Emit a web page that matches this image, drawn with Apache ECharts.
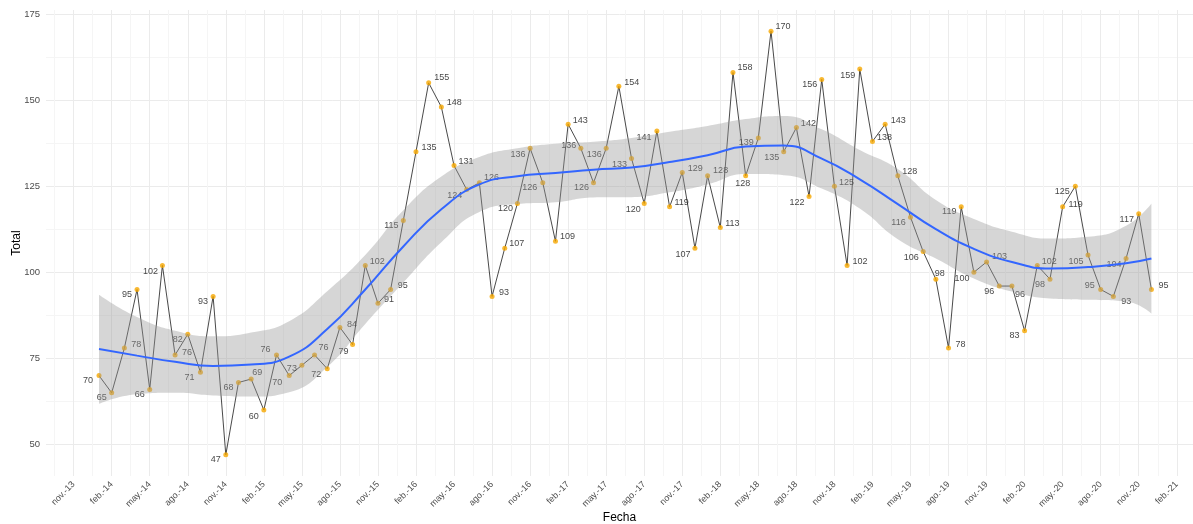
<!DOCTYPE html>
<html>
<head>
<meta charset="utf-8">
<script src="https://cdn.jsdelivr.net/npm/echarts@6/dist/echarts.min.js"></script>
<style>
  html, body { margin: 0; padding: 0; background: #fff; }
  #chart { width: 1193px; height: 524px; }
</style>
</head>
<body>
<div id="chart"></div>
<script>
  // monthly totals, one array per year (ene .. dic)
  var total2014 = [70, 65, 78, 95, 66, 102, 76, 82, 71, 93, 47, 68]
  var total2015 = [69, 60, 76, 70, 73, 76, 72, 84, 79, 102, 91, 95]
  var total2016 = [115, 135, 155, 148, 131, 124, 126, 93, 107, 120, 136, 126]
  var total2017 = [109, 143, 136, 126, 136, 154, 133, 120, 141, 119, 129, 107]
  var total2018 = [128, 113, 158, 128, 139, 170, 135, 142, 122, 156, 125, 102]
  var total2019 = [159, 138, 143, 128, 116, 106, 98, 78, 119, 100, 103, 96]
  var total2020 = [96, 83, 102, 98, 119, 125, 105, 95, 93, 104, 117, 95]

  // x tick labels, every 3 months starting nov-13
  var tickLabels = [
    'nov.-13',
    'feb.-14', 'may.-14', 'ago.-14', 'nov.-14',
    'feb.-15', 'may.-15', 'ago.-15', 'nov.-15',
    'feb.-16', 'may.-16', 'ago.-16', 'nov.-16',
    'feb.-17', 'may.-17', 'ago.-17', 'nov.-17',
    'feb.-18', 'may.-18', 'ago.-18', 'nov.-18',
    'feb.-19', 'may.-19', 'ago.-19', 'nov.-19',
    'feb.-20', 'may.-20', 'ago.-20', 'nov.-20',
    'feb.-21'
  ]
  var yTicks = [50, 75, 100, 125, 150, 175]

  // loess fit + confidence band (month index, 0 = ene-14)
  var smoothMonths = [0, 3, 6, 9, 12, 15, 18, 21, 24, 27, 30, 33, 36, 39, 42, 45, 48, 51, 54, 57, 60, 63, 66, 69, 72, 75, 78, 81, 83]
  var smoothFit = [77.7, 75.8, 74.0, 72.8, 73.2, 75.5, 83.5, 95, 107.5, 118.3, 125.5, 127.9, 128.8, 129.8, 130.4, 132, 134, 136.5, 136.8, 133, 127, 119.8, 112.5, 106.8, 103, 101.1, 101.5, 102.6, 104]
  var smoothUpper = [93.5, 87, 83, 81.4, 82.5, 85.8, 94.5, 105, 118, 127.8, 133.5, 136, 137.3, 137.9, 139, 140.8, 142.5, 144.5, 145.4, 141.5, 135.5, 130, 121, 115.5, 111.8, 109.8, 110.3, 113.5, 120]
  var smoothLower = [61.8, 64.6, 65, 64.2, 63.9, 65.2, 72.5, 85, 97, 108.7, 117.5, 119.8, 120.3, 121.7, 121.8, 123.2, 125.5, 128.5, 128.2, 124.3, 118.5, 109.6, 104, 98.2, 94.4, 92.4, 92, 91.5, 88]

  // where each value label sits relative to its point (px)
  var labelOffsets = [
    [-11, 5], [-10, 5], [12, -4], [-10, 5], [-10, 5], [-12, 6], [12, -2], [-10, 5], [-11, 5], [-10, 5], [-10, 5], [-10, 5],
    [6, -7], [-10, 6], [-11, -5], [-12, 7], [-10, 3], [9, -7], [-11, 6], [12, -3], [-9, 7], [12, -4], [11, -4], [12, -4],
    [-12, 5], [13, -4], [13, -5], [13, -4], [12, -4], [-12, 6], [12, -5], [12, -4], [12, -5], [-12, 5], [-12, 6], [-13, 5],
    [12, -5], [12, -4], [-12, -3], [-12, 5], [-12, 6], [13, -4], [-12, 6], [-11, 6], [-13, 6], [12, -4], [13, -4], [-12, 6],
    [13, -5], [12, -4], [12, -5], [-3, 8], [-12, 5], [12, -5], [-12, 6], [12, -4], [-12, 6], [-12, 5], [12, -4], [13, -4],
    [-12, 6], [12, -4], [13, -4], [12, -4], [-12, 5], [-12, 6], [4, -6], [12, -4], [-12, 5], [-12, 6], [13, -5], [-10, 5],
    [8, 8], [-10, 5], [12, -4], [-10, 5], [13, -2], [-13, 5], [-12, 6], [-11, -4], [13, 5], [-12, 6], [-12, 6], [12, -4]
  ]

  var totals = [].concat(total2014, total2015, total2016, total2017, total2018, total2019, total2020)
  var points = totals.map(function (v, i) { return [i, v] })

  // major ticks every 3 months from nov-13 (index -2), minor lines halfway between
  var majorX = tickLabels.map(function (_, i) { return i * 3 - 2 })
  var gridX = []
  majorX.forEach(function (m) { gridX.push(m - 1.5); gridX.push(m) })
  var gridY = []
  yTicks.forEach(function (v, i) { gridY.push(v); if (i < yTicks.length - 1) gridY.push(v + 12.5) })

  var font = 'Liberation Sans, Arial, sans-serif'
  var chart = echarts.init(document.getElementById('chart'))

  // band rows are [value, month] so the stack runs on y, not on x
  var bandLow = smoothMonths.map(function (m, i) { return [smoothLower[i], m] })
  var bandWidth = smoothMonths.map(function (m, i) { return [smoothUpper[i] - smoothLower[i], m] })

  chart.setOption({
    animation: false,
    backgroundColor: '#ffffff',
    grid: { left: 46, top: 10, width: 1147, height: 466, containLabel: false, outerBoundsMode: 'none' },
    xAxis: {
      type: 'value',
      min: -4.18,
      max: 86.28,
      name: 'Fecha',
      nameLocation: 'middle',
      nameGap: 36,
      nameMoveOverlap: false,
      nameTextStyle: { color: '#000', fontSize: 12, fontFamily: font },
      axisLine: { show: false },
      axisTick: { show: false, customValues: gridX },
      axisLabel: {
        customValues: majorX,
        rotate: 45,
        margin: 7,
        color: '#4d4d4d',
        fontSize: 9,
        fontFamily: font,
        formatter: function (v) { return tickLabels[Math.round((v + 2) / 3)] || '' }
      },
      splitLine: { show: true, lineStyle: { color: ['#f5f5f5', '#ebebeb'], width: 1 } }
    },
    yAxis: {
      type: 'value',
      min: 40.85,
      max: 176.15,
      name: 'Total',
      nameLocation: 'middle',
      nameRotate: 90,
      nameGap: 23,
      nameMoveOverlap: false,
      nameTextStyle: { color: '#000', fontSize: 12, fontFamily: font },
      axisLine: { show: false },
      axisTick: { show: false, customValues: gridY },
      axisLabel: {
        customValues: yTicks,
        margin: 6,
        color: '#4d4d4d',
        fontSize: 9.5,
        fontFamily: font
      },
      splitLine: { show: true, lineStyle: { color: ['#ebebeb', '#f5f5f5'], width: 1 } }
    },
    series: [
      {
        type: 'scatter',
        z: 2,
        symbolSize: 5,
        itemStyle: { color: '#f6a800' },
        data: points.map(function (p, i) {
          return { value: p, label: { offset: labelOffsets[i] } }
        }),
        label: {
          show: true,
          position: 'inside',
          color: '#111',
          fontSize: 9,
          fontFamily: font,
          formatter: function (p) { return p.value[1] }
        },
        emphasis: { disabled: true }
      },
      {
        type: 'line',
        z: 2,
        data: points,
        showSymbol: false,
        lineStyle: { color: '#1a1a1a', width: 0.8 },
        emphasis: { disabled: true }
      },
      {
        type: 'line',
        z: 3,
        stack: 'band',
        smooth: true,
        showSymbol: false,
        encode: { x: 1, y: 0 },
        data: bandLow,
        lineStyle: { opacity: 0 },
        emphasis: { disabled: true }
      },
      {
        type: 'line',
        z: 3,
        stack: 'band',
        smooth: true,
        showSymbol: false,
        encode: { x: 1, y: 0 },
        data: bandWidth,
        lineStyle: { opacity: 0 },
        areaStyle: { color: 'rgba(153,153,153,0.4)', opacity: 1 },
        emphasis: { disabled: true }
      },
      {
        type: 'line',
        z: 4,
        smooth: true,
        showSymbol: false,
        data: smoothMonths.map(function (m, i) { return [m, smoothFit[i]] }),
        lineStyle: { color: '#3366ff', width: 2 },
        emphasis: { disabled: true }
      }
    ]
  })
</script>
</body>
</html>
